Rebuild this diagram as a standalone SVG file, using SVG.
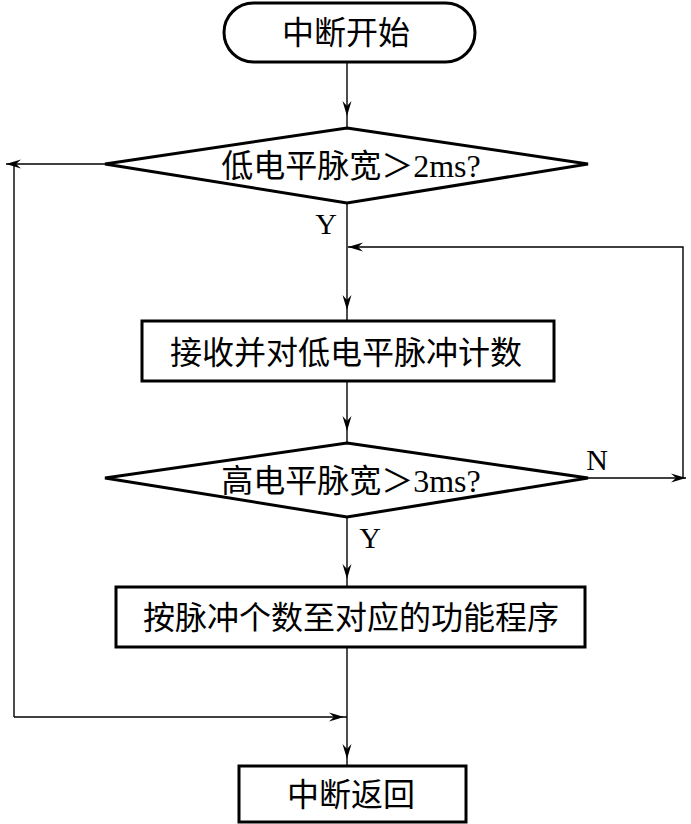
<svg xmlns="http://www.w3.org/2000/svg" width="691" height="824" viewBox="0 0 691 824">
<style>
.shape{fill:#fff;stroke:#000;stroke-width:3}
.conn{fill:none;stroke:#000;stroke-width:1.4}
.t{font-family:"Liberation Serif","Noto Sans CJK SC",serif;font-size:32px;fill:#000;text-anchor:middle}
.lbl{font-family:"Liberation Serif",serif;font-size:30px;fill:#000;text-anchor:middle}
</style>
<defs>
<marker id="ah" markerUnits="userSpaceOnUse" markerWidth="30" markerHeight="20" viewBox="-20 -10 30 20" refX="0" refY="0" orient="auto" overflow="visible">
<path d="M-15,-4.5 L0,0 L-15,4.5 L-10,0 Z" fill="#000"/>
</marker>
</defs>
<g id="connectors">
<path class="conn" d="M347,62 V116 V128" marker-mid="url(#ah)"/>
<path class="conn" d="M105,164 H6" marker-end="url(#ah)"/>
<path class="conn" d="M14,164 V717"/>
<path class="conn" d="M14,717 H344 H347" marker-mid="url(#ah)"/>
<path class="conn" d="M347,203 V310 V321" marker-mid="url(#ah)"/>
<path class="conn" d="M588,478 H686" marker-end="url(#ah)"/>
<path class="conn" d="M683,478 V247 H348" marker-end="url(#ah)"/>
<path class="conn" d="M347,381 V431 V443" marker-mid="url(#ah)"/>
<path class="conn" d="M347,517 V579 V587" marker-mid="url(#ah)"/>
<path class="conn" d="M347,647 V759 V766" marker-mid="url(#ah)"/>
<text class="lbl" x="326" y="234">Y</text>
<text class="lbl" x="370" y="548">Y</text>
<text class="lbl" x="597" y="470">N</text>
</g>
<g id="start">
<rect class="shape" x="224" y="3" width="251" height="59" rx="29.5"/>
<text class="t" x="346" y="44">中断开始</text>
</g>
<g id="d1">
<polygon class="shape" points="347,128 588,164 347,203 105,164"/>
<text class="t" x="351" y="177">低电平脉宽＞2ms?</text>
</g>
<g id="b1">
<rect class="shape" x="142" y="321" width="412" height="60"/>
<text class="t" x="346" y="364">接收并对低电平脉冲计数</text>
</g>
<g id="d2">
<polygon class="shape" points="347,443 588,478 347,517 105,478"/>
<text class="t" x="351" y="492">高电平脉宽＞3ms?</text>
</g>
<g id="b2">
<rect class="shape" x="116" y="587" width="469" height="60"/>
<text class="t" x="351" y="629">按脉冲个数至对应的功能程序</text>
</g>
<g id="end">
<rect class="shape" x="239" y="766" width="227" height="56"/>
<text class="t" x="351" y="806">中断返回</text>
</g>
</svg>
